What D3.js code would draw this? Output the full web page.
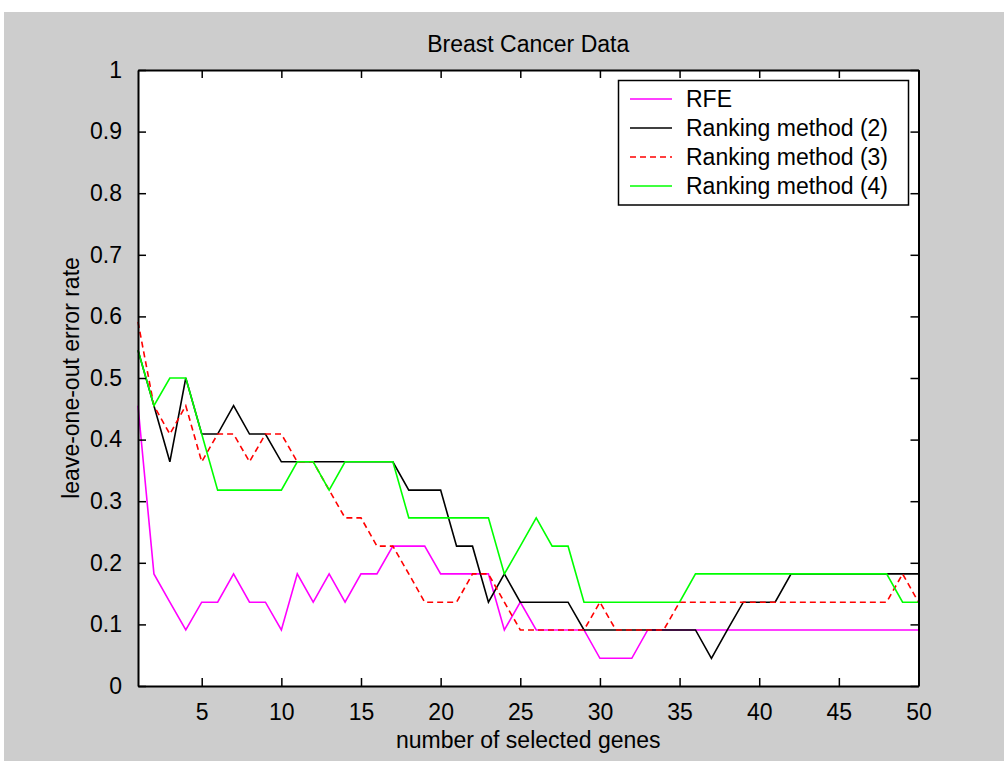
<!DOCTYPE html>
<html>
<head>
<meta charset="utf-8">
<script src="https://cdn.jsdelivr.net/npm/d3@7"></script>
<style>
  html, body { margin: 0; padding: 0; background: #ffffff; }
  svg { display: block; }
  text { font-family: "Liberation Sans", Arial, Helvetica, sans-serif; fill: #000; }
</style>
</head>
<body>
<svg id="chart" width="1004" height="761"></svg>
<script>
// Number of selected genes (x) and leave-one-out error rates per method
const genes = d3.range(1, 51);

const rfe = [0.455, 0.182, 0.136, 0.091, 0.136, 0.136, 0.182, 0.136, 0.136, 0.091,
             0.182, 0.136, 0.182, 0.136, 0.182, 0.182, 0.227, 0.227, 0.227, 0.182,
             0.182, 0.182, 0.182, 0.091, 0.136, 0.091, 0.091, 0.091, 0.091, 0.045,
             0.045, 0.045, 0.091, 0.091, 0.091, 0.091, 0.091, 0.091, 0.091, 0.091,
             0.091, 0.091, 0.091, 0.091, 0.091, 0.091, 0.091, 0.091, 0.091, 0.091];

const rank2 = [0.545, 0.455, 0.364, 0.500, 0.409, 0.409, 0.455, 0.409, 0.409, 0.364,
               0.364, 0.364, 0.364, 0.364, 0.364, 0.364, 0.364, 0.318, 0.318, 0.318,
               0.227, 0.227, 0.136, 0.182, 0.136, 0.136, 0.136, 0.136, 0.091, 0.091,
               0.091, 0.091, 0.091, 0.091, 0.091, 0.091, 0.045, 0.091, 0.136, 0.136,
               0.136, 0.182, 0.182, 0.182, 0.182, 0.182, 0.182, 0.182, 0.182, 0.182];

const rank3 = [0.591, 0.455, 0.409, 0.455, 0.364, 0.409, 0.409, 0.364, 0.409, 0.409,
               0.364, 0.364, 0.318, 0.273, 0.273, 0.227, 0.227, 0.182, 0.136, 0.136,
               0.136, 0.182, 0.182, 0.136, 0.091, 0.091, 0.091, 0.091, 0.091, 0.136,
               0.091, 0.091, 0.091, 0.091, 0.136, 0.136, 0.136, 0.136, 0.136, 0.136,
               0.136, 0.136, 0.136, 0.136, 0.136, 0.136, 0.136, 0.136, 0.182, 0.136];

const rank4 = [0.545, 0.455, 0.500, 0.500, 0.409, 0.318, 0.318, 0.318, 0.318, 0.318,
               0.364, 0.364, 0.318, 0.364, 0.364, 0.364, 0.364, 0.273, 0.273, 0.273,
               0.273, 0.273, 0.273, 0.182, 0.227, 0.273, 0.227, 0.227, 0.136, 0.136,
               0.136, 0.136, 0.136, 0.136, 0.136, 0.182, 0.182, 0.182, 0.182, 0.182,
               0.182, 0.182, 0.182, 0.182, 0.182, 0.182, 0.182, 0.182, 0.136, 0.136];

const seriesNames = ["RFE", "Ranking method (2)", "Ranking method (3)", "Ranking method (4)"];
const seriesColors = ["#ff00ff", "#000000", "#ff0000", "#00ff00"];
const seriesDash = [null, null, "6,4", null];

const xTicks = [5, 10, 15, 20, 25, 30, 35, 40, 45, 50];
const yTicks = [0, 0.1, 0.2, 0.3, 0.4, 0.5, 0.6, 0.7, 0.8, 0.9, 1];
const yTickLabels = ["0", "0.1", "0.2", "0.3", "0.4", "0.5", "0.6", "0.7", "0.8", "0.9", "1"];

const titleText = "Breast Cancer Data";
const xLabelText = "number of selected genes";
const yLabelText = "leave-one-out error rate";

// Layout
const W = 1004, H = 761;
const plot = { left: 138, right: 918.5, top: 70, bottom: 686 };
const fontSize = 23;

const svg = d3.select("#chart");

// Figure background
svg.append("rect").attr("x", 0).attr("y", 0).attr("width", W).attr("height", H).attr("fill", "#ffffff");
svg.append("rect").attr("x", 4).attr("y", 12).attr("width", W - 4).attr("height", H - 12).attr("fill", "#cdcdcd");

const x = d3.scaleLinear().domain([1, 50]).range([plot.left, plot.right]);
const y = d3.scaleLinear().domain([0, 1]).range([plot.bottom, plot.top]);

// Plot area
svg.append("rect")
  .attr("x", plot.left).attr("y", plot.top)
  .attr("width", plot.right - plot.left).attr("height", plot.bottom - plot.top)
  .attr("fill", "#ffffff");

// Data lines
const series = [rfe, rank2, rank3, rank4];
const line = d3.line().x((d, i) => x(genes[i])).y(d => y(d));
const linesG = svg.append("g");
series.forEach((vals, k) => {
  linesG.append("path")
    .datum(vals)
    .attr("d", line)
    .attr("fill", "none")
    .attr("stroke", seriesColors[k])
    .attr("stroke-width", 1.6)
    .attr("stroke-dasharray", seriesDash[k])
    .attr("stroke-linejoin", "miter");
});

// Axes (ticks point inward on all four sides)
const tickLen = 8;
function styleAxis(g) {
  g.selectAll("path.domain").attr("stroke", "#000").attr("stroke-width", 2);
  g.selectAll(".tick line").attr("stroke", "#000").attr("stroke-width", 1.5);
  g.selectAll(".tick text")
    .attr("font-size", fontSize)
    .style("font-family", "'Liberation Sans', Arial, Helvetica, sans-serif")
    .attr("fill", "#000");
}

svg.append("g")
  .attr("transform", `translate(0,${plot.bottom})`)
  .call(d3.axisBottom(x).tickValues(xTicks).tickSize(-tickLen).tickSizeOuter(0).tickPadding(18))
  .call(styleAxis)
  .call(g => g.selectAll(".tick text").attr("dy", "0.71em"));

svg.append("g")
  .attr("transform", `translate(0,${plot.top})`)
  .call(d3.axisTop(x).tickValues(xTicks).tickSize(-tickLen).tickSizeOuter(0).tickFormat(""))
  .call(styleAxis);

svg.append("g")
  .attr("transform", `translate(${plot.left},0)`)
  .call(d3.axisLeft(y).tickValues(yTicks).tickSize(-tickLen).tickSizeOuter(0)
        .tickPadding(16).tickFormat((d, i) => yTickLabels[i]))
  .call(styleAxis);

svg.append("g")
  .attr("transform", `translate(${plot.right},0)`)
  .call(d3.axisRight(y).tickValues(yTicks).tickSize(-tickLen).tickSizeOuter(0).tickFormat(""))
  .call(styleAxis);

// Title and axis labels
const cx = (plot.left + plot.right) / 2;
svg.append("text")
  .attr("x", cx).attr("y", 52)
  .attr("text-anchor", "middle")
  .attr("font-size", fontSize)
  .text(titleText);

svg.append("text")
  .attr("x", cx).attr("y", 748)
  .attr("text-anchor", "middle")
  .attr("font-size", fontSize)
  .text(xLabelText);

svg.append("text")
  .attr("transform", `translate(79,${(plot.top + plot.bottom) / 2}) rotate(-90)`)
  .attr("text-anchor", "middle")
  .attr("font-size", fontSize)
  .text(yLabelText);

// Legend
const legend = { left: 618.5, top: 80.5, width: 290, height: 124.5 };
const lg = svg.append("g");
lg.append("rect")
  .attr("x", legend.left).attr("y", legend.top)
  .attr("width", legend.width).attr("height", legend.height)
  .attr("fill", "#ffffff").attr("stroke", "#000").attr("stroke-width", 1.5);

const rowY = [99, 128, 157, 186];
seriesNames.forEach((name, k) => {
  lg.append("line")
    .attr("x1", 630).attr("x2", 672)
    .attr("y1", rowY[k]).attr("y2", rowY[k])
    .attr("stroke", seriesColors[k])
    .attr("stroke-width", 1.6)
    .attr("stroke-dasharray", seriesDash[k]);
  lg.append("text")
    .attr("x", 686).attr("y", rowY[k])
    .attr("dy", "0.36em")
    .attr("font-size", fontSize)
    .text(name);
});
</script>
</body>
</html>
